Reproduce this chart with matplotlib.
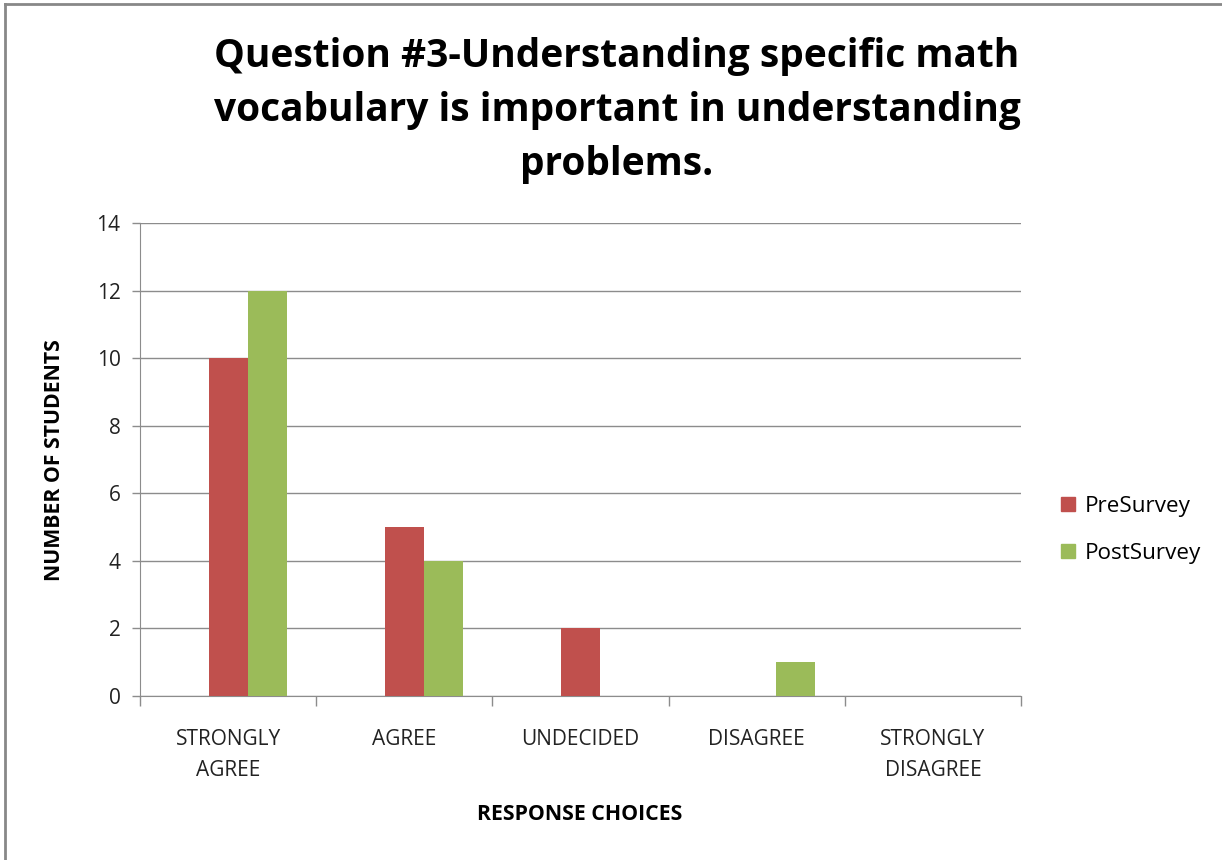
import numpy as np
import matplotlib.pyplot as plt
from matplotlib.lines import Line2D
from matplotlib.patches import Patch

# Chart data
CATEGORIES = ["STRONGLY\nAGREE", "AGREE", "UNDECIDED", "DISAGREE", "STRONGLY\nDISAGREE"]
PRE_SURVEY = [10, 5, 2, 0, 0]
POST_SURVEY = [12, 4, 0, 1, 0]
Y_TICKS = [0, 2, 4, 6, 8, 10, 12, 14]

# Colours
C_PRE = "#C0504D"
C_POST = "#9BBB59"
C_GRID = "#8C8C8C"
FONT = "Open Sans"

fig = plt.figure(figsize=(12.22, 8.6), dpi=100)
ax = fig.add_axes([140 / 1222, 1 - 696 / 860, (1021 - 140) / 1222, (696 - 223) / 860])

x = np.arange(len(CATEGORIES))
w = 0.221
ax.bar(x, PRE_SURVEY, w, color=C_PRE, zorder=3)
ax.bar(x + w, POST_SURVEY, w, color=C_POST, zorder=3)

ax.set_xlim(-0.5, len(CATEGORIES) - 0.5)
ax.set_ylim(0, 14)
ax.set_yticks(Y_TICKS)
ax.yaxis.grid(True, color=C_GRID, lw=1)
ax.set_axisbelow(True)

# category boundary ticks, labels at centres
ax.set_xticks(np.arange(-0.5, len(CATEGORIES), 1.0))
ax.set_xticklabels([])
ax.set_xticks(x, minor=True)
ax.set_xticklabels(CATEGORIES, minor=True, fontsize=15, family=FONT, color="#222222",
                   linespacing=1.6)
ax.tick_params(axis="x", which="major", length=7, color=C_GRID, width=1)
ax.tick_params(axis="x", which="minor", length=0, pad=24)
ax.tick_params(axis="y", length=6, color=C_GRID, width=1, pad=8, labelsize=15)
for lbl in ax.get_yticklabels():
    lbl.set_family(FONT)
    lbl.set_color("#222222")

for s in ["top", "right"]:
    ax.spines[s].set_visible(False)
for s in ["left", "bottom"]:
    ax.spines[s].set_color(C_GRID)

# titles and axis labels
fig.text(617 / 1222, 1 - 110 / 860,
         "Question #3-Understanding specific math\nvocabulary is important in understanding\nproblems.",
         ha="center", va="center", fontsize=28, fontweight="bold", family=FONT,
         linespacing=1.5)
fig.text(55 / 1222, 1 - 460 / 860, "NUMBER OF STUDENTS", rotation=90, ha="center", va="center",
         fontsize=15.3, fontweight="bold", family=FONT)
fig.text(580 / 1222, 1 - 815 / 860, "RESPONSE CHOICES", ha="center", va="center",
         fontsize=15.3, fontweight="bold", family=FONT)

# legend
handles = [Patch(color=C_PRE, label="PreSurvey"), Patch(color=C_POST, label="PostSurvey")]
fig.legend(handles=handles, loc="center left", bbox_to_anchor=(1041 / 1222, 1 - 530 / 860),
           frameon=False, handlelength=0.6, handleheight=0.6, handletextpad=0.45,
           labelspacing=1.15, prop={"family": FONT, "size": 16.2})

# outer frame (top and left edges visible)
fig.add_artist(Line2D([5 / 1222, 5 / 1222], [0, 1 - 4 / 860], color="#888888", lw=2))
fig.add_artist(Line2D([5 / 1222, 1], [1 - 4 / 860, 1 - 4 / 860], color="#888888", lw=2))

plt.savefig("out.png", dpi=100)
